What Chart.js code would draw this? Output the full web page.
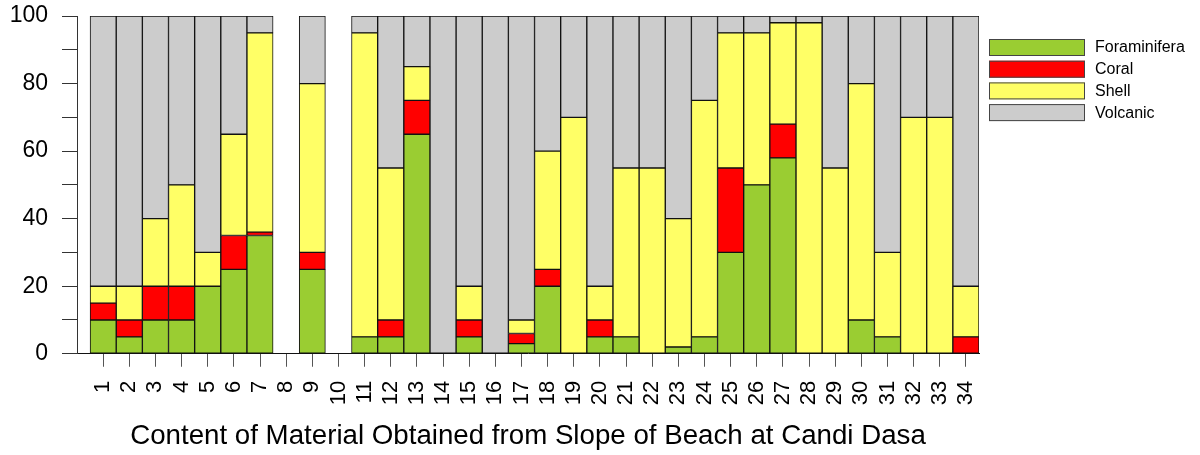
<!DOCTYPE html>
<html>
<head>
<meta charset="utf-8">
<script src="https://cdn.jsdelivr.net/npm/chart.js@4"></script>
<style>
  html, body { margin: 0; padding: 0; background: #fff; }
  #wrap { width: 1200px; height: 455px; }
</style>
</head>
<body>
<div id="wrap"><canvas id="chart"></canvas></div>
<script>
// samples 1..34
const samples = [1,2,3,4,5,6,7,8,9,10,11,12,13,14,15,16,17,18,19,20,21,22,23,24,25,26,27,28,29,30,31,32,33,34];

// % content per sample
const foraminifera = [10,5,10,10,20,25,35,0,25,0,5,5,65,0,5,0,3,20,0,5,5,0,2,5,30,50,58,0,0,10,5,0,0,0];
const coral        = [5,5,10,10,0,10,1,0,5,0,0,5,10,0,5,0,3,5,0,5,0,0,0,0,25,0,10,0,0,0,0,0,0,5];
const shell        = [5,10,20,30,10,30,59,0,50,0,90,45,10,0,10,0,4,35,70,10,50,55,38,70,40,45,30,98,55,70,25,70,70,15];
const volcanic     = [80,80,60,50,70,35,5,0,20,0,5,45,15,100,80,100,90,40,30,80,45,45,60,25,5,5,2,2,45,20,70,30,30,80];

const yTicks = [0,10,20,30,40,50,60,70,80,90,100];

const chartTitle = "Content of Material Obtained from Slope of Beach at Candi Dasa";

const FONT = "'Liberation Sans', Arial, sans-serif";

function toPoints(values) {
  return values.map((v, i) => ({ x: samples[i], y: v }));
}

function makeSet(label, values, color) {
  return {
    label: label,
    data: toPoints(values),
    backgroundColor: color,
    borderColor: "#111111",
    borderWidth: 1,
    borderSkipped: false,
    barPercentage: 1,
    categoryPercentage: 1
  };
}

// legend boxes drawn at the right, like the R legend
const boxLegend = {
  id: "boxLegend",
  afterDraw(chart) {
    const ctx = chart.ctx;
    const left = chart.chartArea.right + 10;
    let top = 39;
    ctx.save();
    ctx.font = "16px " + FONT;
    ctx.textBaseline = "middle";
    chart.data.datasets.forEach((ds) => {
      ctx.fillStyle = ds.backgroundColor;
      ctx.fillRect(left, top, 96, 17);
      ctx.strokeStyle = "#444444";
      ctx.lineWidth = 1;
      ctx.strokeRect(left + 0.5, top + 0.5, 95, 16);
      ctx.fillStyle = "#000000";
      ctx.fillText(ds.label, left + 106, top + 9);
      top += 21.7;
    });
    ctx.restore();
  }
};

new Chart(document.getElementById("chart"), {
  type: "bar",
  data: {
    datasets: [
      makeSet("Foraminifera", foraminifera, "#9ACD32"),
      makeSet("Coral", coral, "#FF0000"),
      makeSet("Shell", shell, "#FFFF66"),
      makeSet("Volcanic", volcanic, "#CCCCCC")
    ]
  },
  options: {
    responsive: true,
    maintainAspectRatio: false,
    animation: false,
    layout: {
      padding: { left: 0, right: 221, top: 16, bottom: 2 }
    },
    scales: {
      x: {
        type: "linear",
        stacked: true,
        offset: false,
        min: 0,
        max: 34.5,
        afterBuildTicks: function (scale) {
          scale.ticks = samples.map((s) => ({ value: s }));
        },
        afterFit: function (scale) {
          scale.height = 66;
          scale.paddingLeft = 0;
          scale.paddingRight = 0;
        },
        grid: {
          display: true,
          offset: false,
          drawOnChartArea: false,
          drawTicks: true,
          tickLength: 13,
          color: "#555555"
        },
        border: { display: true, color: "#111111", width: 1 },
        ticks: {
          autoSkip: false,
          minRotation: 90,
          maxRotation: 90,
          padding: 14,
          color: "#000000",
          font: { family: FONT, size: 22 },
          callback: function (val) { return String(val); }
        }
      },
      y: {
        stacked: true,
        min: 0,
        max: 100,
        afterBuildTicks: function (scale) {
          scale.ticks = yTicks.map((v) => ({ value: v }));
        },
        afterFit: function (scale) {
          scale.width = 77;
          scale.paddingTop = 0;
          scale.paddingBottom = 0;
        },
        grid: {
          display: true,
          drawOnChartArea: false,
          drawTicks: true,
          tickLength: 15,
          color: "#333333"
        },
        border: { display: true, color: "#333333", width: 1 },
        ticks: {
          padding: 14,
          color: "#000000",
          font: { family: FONT, size: 23 },
          callback: function (val) { return val % 20 === 0 ? String(val) : ""; }
        }
      }
    },
    plugins: {
      legend: { display: false },
      tooltip: { enabled: false },
      title: {
        display: true,
        position: "bottom",
        fullSize: false,
        text: chartTitle,
        color: "#000000",
        font: { family: FONT, size: 27.7, weight: "normal" },
        padding: { top: 0, bottom: 0 }
      }
    }
  },
  plugins: [boxLegend]
});
</script>
</body>
</html>
